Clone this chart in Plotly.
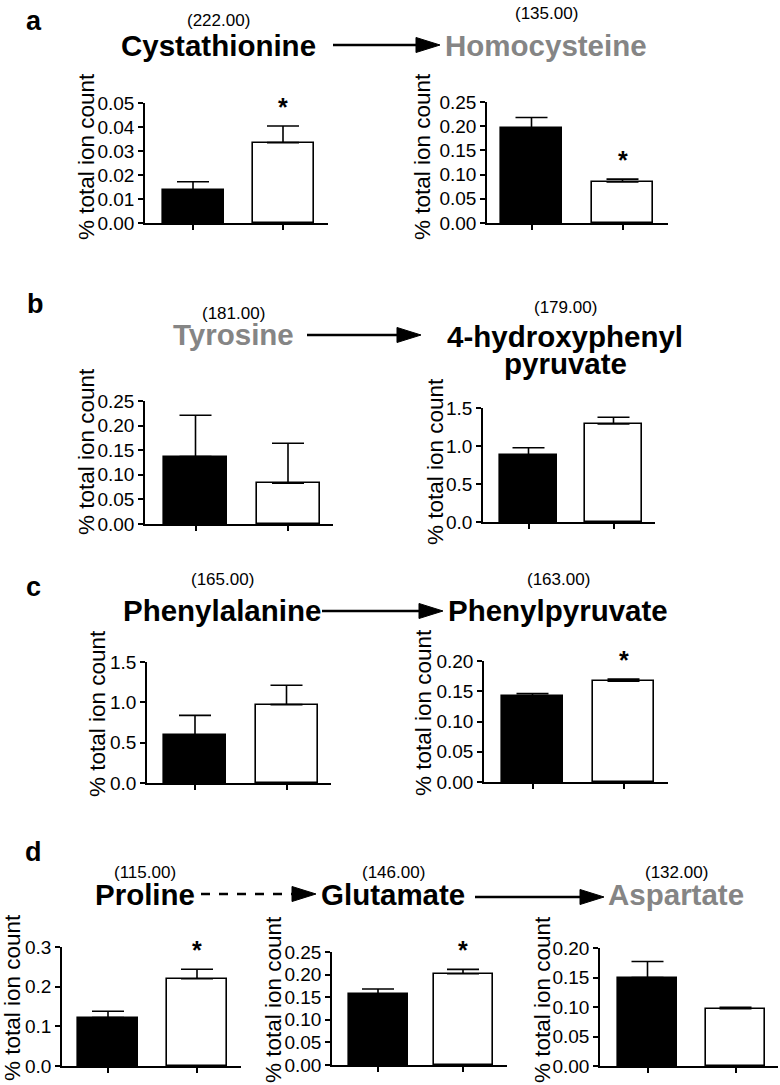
import plotly.graph_objects as go

W, H = 780, 1085

# metabolite data: control = black bars, treated = white bars
metabolites = ["Cystathionine", "Homocysteine", "Tyrosine", "4-hydroxyphenyl<br>pyruvate",
               "Phenylalanine", "Phenylpyruvate", "Proline", "Glutamate", "Aspartate"]
masses = ["(222.00)", "(135.00)", "(181.00)", "(179.00)", "(165.00)", "(163.00)",
          "(115.00)", "(146.00)", "(132.00)"]
control_mean = [0.0137, 0.196, 0.137, 0.88, 0.59, 0.142, 0.122, 0.157, 0.150]
control_sem = [0.0035, 0.022, 0.084, 0.096, 0.248, 0.004, 0.016, 0.011, 0.027]
treated_mean = [0.0335, 0.085, 0.083, 1.29, 0.972, 0.1665, 0.220, 0.202, 0.097]
treated_sem = [0.0069, 0.0056, 0.081, 0.088, 0.239, 0.0035, 0.024, 0.0096, 0.0023]
significant = [True, True, False, False, False, True, True, True, False]
y_max = [0.05, 0.25, 0.25, 1.5, 1.5, 0.20, 0.3, 0.25, 0.20]
y_step = [0.01, 0.05, 0.05, 0.5, 0.5, 0.05, 0.1, 0.05, 0.05]
tick_fmt = [".2f", ".2f", ".2f", ".1f", ".1f", ".2f", ".1f", ".2f", ".2f"]
gray_name = [False, True, True, False, False, False, False, False, True]
panel_letters = ["a", "b", "c", "d"]

FONT = "Liberation Sans, Arial, Helvetica, sans-serif"
GRAY = "#858585"

# plot boxes in pixels: x left, x right, y top, y bottom, centre of first bar, bar spacing, bar width
boxes = [
    (145, 328, 103, 223, 193, 90, 61),
    (487, 668, 102, 223, 531.5, 91, 61),
    (145, 333, 401, 524, 195.5, 92.5, 63),
    (483, 655, 408, 522, 528.5, 85, 57),
    (147, 331, 662, 783, 195, 91.5, 62),
    (484, 668, 661, 782, 532.5, 91, 61),
    (62, 241, 947, 1066, 108, 89, 60),
    (332, 507, 952, 1065, 378, 85, 59),
    (600, 778, 948, 1066, 647.5, 88, 59),
]
# label positions (centre x, mass y, name y) and y-title positions (x, y)
name_pos = [(218, 20, 45), (546, 13, 45), (233, 314, 334), (565, 307, 337),
            (222, 579, 610), (558, 579, 610), (145, 872, 894), (393, 872, 894), (676, 872, 894)]
ytitle_pos = [(87, 157), (423, 156), (86, 452), (435, 462), (97, 714), (423, 712),
              (12, 998), (273, 1000), (542, 1000)]
letter_pos = [(34, 21), (35, 304), (33, 587), (33, 852)]
arrows = [(333, 440, 45, "solid"), (307, 421, 335, "solid"), (322, 443, 611, "solid"),
          (201, 316, 894, "dash"), (475, 604, 897, "solid")]


def px(x):
    return x / W


def py(y):
    return 1 - y / H


def text_at(x, y, text, size, color="black", angle=0):
    return dict(x=px(x), y=py(y), xref="paper", yref="paper", text=text, showarrow=False,
                xanchor="center", yanchor="middle", textangle=angle,
                font=dict(family=FONT, size=size, color=color))


fig = go.Figure()
annotations = []
shapes = []

for i in range(9):
    xl, xr, yt, yb, c0, sp, bw = boxes[i]
    n = "" if i == 0 else str(i + 1)
    fig.add_trace(go.Bar(
        x=[0, 1], y=[control_mean[i], treated_mean[i]], width=bw / sp,
        marker=dict(color=["black", "white"], line=dict(color="black", width=1.6)),
        error_y=dict(type="data", symmetric=False, array=[control_sem[i], treated_sem[i]],
                     arrayminus=[0, 0], color="black", thickness=1.6, width=16),
        xaxis="x" + n, yaxis="y" + n, showlegend=False, hoverinfo="skip"))
    fig.layout["xaxis" + n] = dict(
        domain=[px(xl), px(xr)], anchor="y" + n, range=[(xl - c0) / sp, (xr - c0) / sp],
        showline=True, linecolor="black", linewidth=1.6, ticks="outside", ticklen=5,
        tickwidth=1.6, tickcolor="black", tickvals=[0, 1], showticklabels=False,
        showgrid=False, zeroline=False, fixedrange=True, automargin=False)
    fig.layout["yaxis" + n] = dict(
        domain=[py(yb), py(yt)], anchor="x" + n, range=[0, y_max[i]],
        tickmode="linear", tick0=0, dtick=y_step[i], tickformat=tick_fmt[i],
        showline=True, linecolor="black", linewidth=1.6, ticks="outside", ticklen=5,
        tickwidth=1.6, tickcolor="black", showgrid=False, zeroline=False,
        tickfont=dict(family=FONT, size=19, color="black"), fixedrange=True, automargin=False)

    if significant[i]:
        annotations.append(dict(x=1, y=treated_mean[i] + treated_sem[i], xref="x" + n, yref="y" + n,
                                text="<b>*</b>", showarrow=False, xanchor="center", yanchor="middle",
                                yshift=19, font=dict(family=FONT, size=25, color="black")))

    cx, my, ny = name_pos[i]
    annotations.append(text_at(cx, my, masses[i], 17))
    # multi-line names are stacked with a tight line spacing
    for k, line in enumerate(metabolites[i].split("<br>")):
        annotations.append(text_at(cx, ny + 27 * k, "<b>" + line + "</b>", 29.5,
                                   GRAY if gray_name[i] else "black"))
    tx, ty = ytitle_pos[i]
    annotations.append(text_at(tx, ty, "% total ion count", 22.5, angle=-90))

for letter, (lx, ly) in zip(panel_letters, letter_pos):
    annotations.append(text_at(lx, ly, "<b>" + letter + "</b>", 27))

# reaction arrows
for x0, x1, y, dash in arrows:
    head = 24
    shapes.append(dict(type="line", xref="paper", yref="paper", x0=px(x0), x1=px(x1 - head + 2),
                       y0=py(y), y1=py(y), line=dict(color="black", width=2.7, dash=dash)))
    shapes.append(dict(type="path", xref="paper", yref="paper",
                       path="M %f,%f L %f,%f L %f,%f Z" % (px(x1 - head), py(y - 7.5), px(x1), py(y),
                                                          px(x1 - head), py(y + 7.5)),
                       fillcolor="black", line=dict(color="black", width=1)))

fig.update_layout(width=W, height=H, margin=dict(l=0, r=0, t=0, b=0),
                  paper_bgcolor="white", plot_bgcolor="white",
                  annotations=annotations, shapes=shapes, bargap=0)

fig.write_html("out.html", config={"displayModeBar": False},
               post_script="document.body.style.margin='0';")
